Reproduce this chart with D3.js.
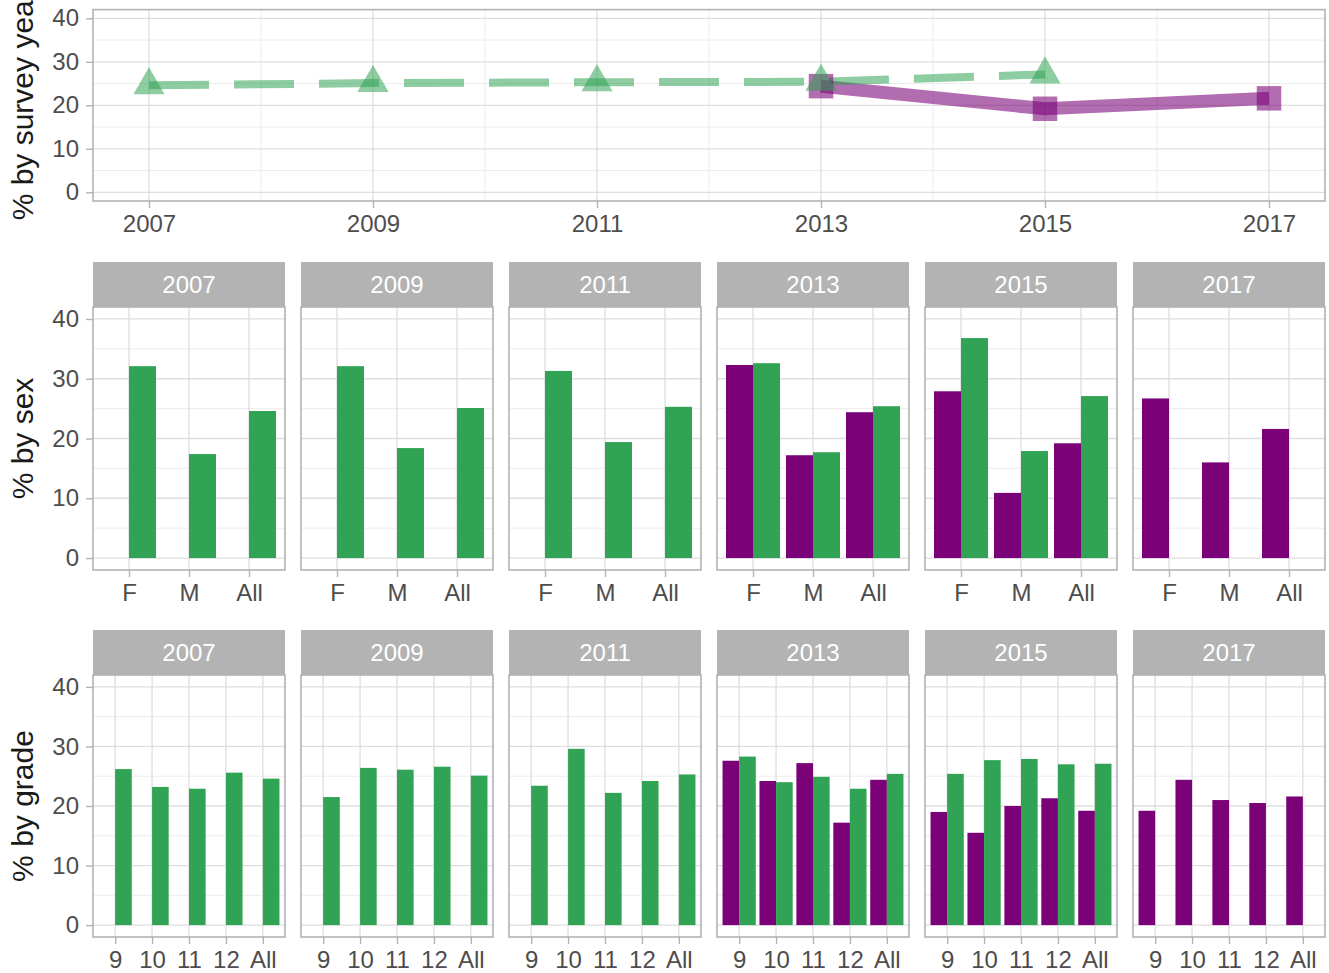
<!DOCTYPE html>
<html>
<head>
<meta charset="utf-8">
<script src="https://cdn.jsdelivr.net/npm/d3@7"></script>
<style>
  html, body { margin: 0; padding: 0; background: #ffffff; }
  svg { display: block; font-family: "Liberation Sans", Arial, Helvetica, sans-serif; }
</style>
</head>
<body>
<svg id="chart" width="1329" height="973"></svg>
<script>
// ---------------- DATA ----------------
const years = [2007, 2009, 2011, 2013, 2015, 2017];
const seriesNames = ["Series A", "Series B"];          // A = purple, B = green
const seriesColors = ["#7a0177", "#31a354"];
const sexCats = ["F", "M", "All"];
const gradeCats = ["9", "10", "11", "12", "All"];
const yTicks = [0, 10, 20, 30, 40];

// top panel: % by survey year
const trendYearsA = [2013, 2015, 2017];
const trendValuesA = [24.4, 19.2, 21.6];
const trendYearsB = [2007, 2009, 2011, 2013, 2015];
const trendValuesB = [24.6, 25.1, 25.3, 25.4, 27.1];

// % by sex (per year, values for F, M, All; null = not surveyed)
const sexA = [null, null, null, [32.3, 17.2, 24.4], [27.9, 10.9, 19.2], [26.7, 16.0, 21.6]];
const sexB = [[32.1, 17.4, 24.6], [32.1, 18.4, 25.1], [31.3, 19.4, 25.3], [32.6, 17.7, 25.4], [36.8, 17.9, 27.1], null];

// % by grade (per year, values for 9, 10, 11, 12, All)
const gradeA = [null, null, null, [27.6, 24.2, 27.2, 17.2, 24.4], [19.0, 15.5, 20.0, 21.3, 19.2], [19.2, 24.4, 21.0, 20.5, 21.6]];
const gradeB = [[26.2, 23.2, 22.9, 25.6, 24.6], [21.5, 26.4, 26.1, 26.6, 25.1], [23.4, 29.6, 22.2, 24.2, 25.3], [28.3, 24.0, 24.9, 22.9, 25.4], [25.4, 27.7, 27.9, 27.0, 27.1], null];

// ---------------- LAYOUT ----------------
const svg = d3.select("#chart");
const BORDER = "#b3b3b3", GRID = "#dedede", GRID_MINOR = "#ececec", TEXT = "#4d4d4d";
const left = 93, right = 1325;
const facetW = 192, facetGap = 16;

function styleAxis(g) {
  g.select(".domain").remove();
  g.selectAll(".tick line").attr("stroke", BORDER).attr("stroke-width", 1.4);
  g.selectAll(".tick text").attr("fill", TEXT).attr("font-size", 24)
    .attr("font-family", "'Liberation Sans', Arial, sans-serif");
}

function yTitle(text, cy) {
  svg.append("text")
    .attr("transform", `translate(33,${cy}) rotate(-90)`)
    .attr("text-anchor", "middle")
    .attr("font-size", 30)
    .attr("fill", "#1a1a1a")
    .text(text);
}

// ---------------- TOP PANEL ----------------
(function () {
  const top = 9.6, bottom = 201;
  const x = d3.scaleLinear().domain([2006.5, 2017.5]).range([left, right]);
  const y = d3.scaleLinear().domain([-2, 42]).range([bottom, top]);
  const g = svg.append("g");
  g.append("rect").attr("x", left).attr("y", top).attr("width", right - left).attr("height", bottom - top).attr("fill", "#fff");
  // minor grid
  [5, 15, 25, 35].forEach(v => g.append("line").attr("x1", left).attr("x2", right).attr("y1", y(v)).attr("y2", y(v)).attr("stroke", GRID_MINOR).attr("stroke-width", 1));
  [2008, 2010, 2012, 2014, 2016].forEach(v => g.append("line").attr("x1", x(v)).attr("x2", x(v)).attr("y1", top).attr("y2", bottom).attr("stroke", GRID_MINOR).attr("stroke-width", 1));
  // major grid
  yTicks.forEach(v => g.append("line").attr("x1", left).attr("x2", right).attr("y1", y(v)).attr("y2", y(v)).attr("stroke", GRID).attr("stroke-width", 1.3));
  years.forEach(v => g.append("line").attr("x1", x(v)).attr("x2", x(v)).attr("y1", top).attr("y2", bottom).attr("stroke", GRID).attr("stroke-width", 1.3));

  const line = d3.line().x(d => x(d[0])).y(d => y(d[1]));
  const ptsA = trendYearsA.map((yr, i) => [yr, trendValuesA[i]]);
  const ptsB = trendYearsB.map((yr, i) => [yr, trendValuesB[i]]);

  g.append("path").datum(ptsA).attr("d", line).attr("fill", "none")
    .attr("stroke", seriesColors[0]).attr("stroke-opacity", 0.58).attr("stroke-width", 13);
  g.append("path").datum(ptsB).attr("d", line).attr("fill", "none")
    .attr("stroke", seriesColors[1]).attr("stroke-opacity", 0.55).attr("stroke-width", 8)
    .attr("stroke-dasharray", "60,25");

  g.selectAll(".ptA").data(ptsA).join("path")
    .attr("transform", d => `translate(${x(d[0])},${y(d[1])})`)
    .attr("d", d3.symbol(d3.symbolSquare, 600))
    .attr("fill", seriesColors[0]).attr("fill-opacity", 0.58);
  g.selectAll(".ptB").data(ptsB).join("path")
    .attr("transform", d => `translate(${x(d[0])},${y(d[1])})`)
    .attr("d", d3.symbol(d3.symbolTriangle, 421))
    .attr("fill", seriesColors[1]).attr("fill-opacity", 0.55);

  g.append("rect").attr("x", left).attr("y", top).attr("width", right - left).attr("height", bottom - top)
    .attr("fill", "none").attr("stroke", BORDER).attr("stroke-width", 1.6);

  svg.append("g").attr("transform", `translate(${left},0)`)
    .call(d3.axisLeft(y).tickValues(yTicks).tickSize(7).tickPadding(7)).call(styleAxis);
  svg.append("g").attr("transform", `translate(0,${bottom})`)
    .call(d3.axisBottom(x).tickValues(years).tickFormat(d3.format("d")).tickSize(7).tickPadding(7)).call(styleAxis);

  yTitle("% by survey year", (top + bottom) / 2);
})();

// ---------------- FACET ROWS ----------------
function facetRow(cats, dataA, dataB, stripTop, panelTop, panelBottom, title) {
  const y = d3.scaleLinear().domain([-2, 42]).range([panelBottom, panelTop]);
  years.forEach((yr, fi) => {
    const fx = left + fi * (facetW + facetGap);
    const x = d3.scalePoint().domain(cats).range([fx, fx + facetW]).padding(0.6);
    const unit = x.step();
    const xg = d3.scaleBand().domain(seriesNames).range([-0.45 * unit, 0.45 * unit]).paddingInner(0).paddingOuter(0);
    const g = svg.append("g");

    // strip
    g.append("rect").attr("x", fx).attr("y", stripTop).attr("width", facetW).attr("height", panelTop - stripTop).attr("fill", "#b3b3b3");
    g.append("text").attr("x", fx + facetW / 2).attr("y", (stripTop + panelTop) / 2 + 8.6)
      .attr("text-anchor", "middle").attr("fill", "#ffffff").attr("font-size", 24).text(yr);

    // panel background and grid
    g.append("rect").attr("x", fx).attr("y", panelTop).attr("width", facetW).attr("height", panelBottom - panelTop).attr("fill", "#fff");
    [5, 15, 25, 35].forEach(v => g.append("line").attr("x1", fx).attr("x2", fx + facetW).attr("y1", y(v)).attr("y2", y(v)).attr("stroke", GRID_MINOR).attr("stroke-width", 1));
    yTicks.forEach(v => g.append("line").attr("x1", fx).attr("x2", fx + facetW).attr("y1", y(v)).attr("y2", y(v)).attr("stroke", GRID).attr("stroke-width", 1.3));
    cats.forEach(c => g.append("line").attr("x1", x(c)).attr("x2", x(c)).attr("y1", panelTop).attr("y2", panelBottom).attr("stroke", GRID).attr("stroke-width", 1.3));

    // bars
    [dataA, dataB].forEach((arr, si) => {
      const vals = arr[fi];
      if (!vals) return;
      g.selectAll(null).data(cats.map((c, ci) => ({ c, v: vals[ci] }))).join("rect")
        .attr("x", d => x(d.c) + xg(seriesNames[si]))
        .attr("width", xg.bandwidth())
        .attr("y", d => y(d.v))
        .attr("height", d => y(0) - y(d.v))
        .attr("fill", seriesColors[si]);
    });

    g.append("rect").attr("x", fx).attr("y", panelTop).attr("width", facetW).attr("height", panelBottom - panelTop)
      .attr("fill", "none").attr("stroke", BORDER).attr("stroke-width", 1.6);

    svg.append("g").attr("transform", `translate(0,${panelBottom})`)
      .call(d3.axisBottom(x).tickSize(7).tickPadding(7)).call(styleAxis);
    if (fi === 0) {
      svg.append("g").attr("transform", `translate(${fx},0)`)
        .call(d3.axisLeft(y).tickValues(yTicks).tickSize(7).tickPadding(7)).call(styleAxis);
    }
  });
  yTitle(title, (panelTop + panelBottom) / 2);
}

facetRow(sexCats, sexA, sexB, 262, 307, 570, "% by sex");
facetRow(gradeCats, gradeA, gradeB, 630, 675, 937, "% by grade");
</script>
</body>
</html>
